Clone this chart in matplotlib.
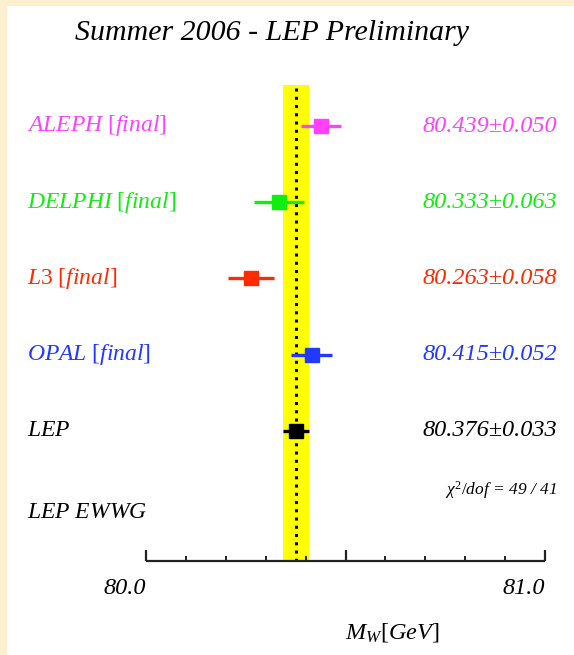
import numpy as np
import matplotlib
matplotlib.use('Agg')
import matplotlib.pyplot as plt
from matplotlib.patches import Rectangle

plt.rcParams['font.family'] = 'Liberation Serif'
plt.rcParams['mathtext.fontset'] = 'custom'
plt.rcParams['mathtext.rm'] = 'Liberation Serif'
plt.rcParams['mathtext.it'] = 'Liberation Serif:italic'
plt.rcParams['mathtext.bf'] = 'Liberation Serif:bold'

# Messungen
experiments = ['ALEPH', 'DELPHI', 'L3', 'OPAL', 'LEP']
final_tag = [True, True, True, True, False]
mw = [80.439, 80.333, 80.263, 80.415, 80.376]
err = [0.050, 0.063, 0.058, 0.052, 0.033]
colors = ['#ff40ff', '#10ee10', '#ff2a00', '#2038ff', '#000000']
lep_mean = 80.376
lep_err = 0.033
chi2_text = r'$\chi^2/\mathit{dof}$ = 49 / 41'
xticks_major = [80.0, 80.5, 81.0]
xticks_minor = [80.1, 80.2, 80.3, 80.4, 80.6, 80.7, 80.8, 80.9]
xticklabels = ['80.0', '81.0']

W, H = 574, 655
fig = plt.figure(figsize=(W / 100, H / 100), dpi=100)
fig.patch.set_facecolor('white')
ax = fig.add_axes([0, 0, 1, 1])
ax.axis('off')

# pixel -> daten: 80.0 bei px 146, 81.0 bei px 545; zeile i bei px 126 + 76.2 i
px_per_gev = 399.0
row_px = 76.2
x0 = 80.0 - 146 / px_per_gev
ax.set_xlim(x0, 80.0 + (W - 146) / px_per_gev)
ax.set_ylim((H - 126) / row_px, -126 / row_px)

def ry(px):
    return (px - 126) / row_px

def rx(px):
    return x0 + px / px_per_gev

axis_y = ry(561)

# creme rand oben / links
fig.patches.append(Rectangle((0, 1 - 5 / H), 1, 5 / H, transform=fig.transFigure,
                             color='#fef0cf', zorder=0))
fig.patches.append(Rectangle((0, 0), 6 / W, 1, transform=fig.transFigure,
                             color='#fef0cf', zorder=0))

# gelbes band + gepunktete linie
ax.fill_between([lep_mean - lep_err, lep_mean + lep_err], ry(85), axis_y,
                color='#ffff00', lw=0, zorder=1)
ax.plot([lep_mean, lep_mean], [ry(88), axis_y], color='black', lw=2.2,
        linestyle=(0, (1, 1.7)), dash_capstyle='butt', zorder=2)

# messpunkte
for i, (name, f, m, e, c) in enumerate(zip(experiments, final_tag, mw, err, colors)):
    ax.errorbar(m, i, xerr=e, fmt='s', color=c, ms=10, lw=2.4, capsize=0, zorder=3)
    if f:
        lab = r'$\mathit{%s}\ [\mathit{final}]$' % name
    else:
        lab = r'$\mathit{%s}$' % name
    ax.text(rx(27), i, lab, color=c, fontsize=17, ha='left', va='center')
    ax.text(rx(557), i, '%.3f\u00b1%.3f' % (m, e), color=c, fontsize=17.5,
            fontstyle='italic', ha='right', va='center')

ax.text(rx(27), ry(512), r'$\mathit{LEP\ EWWG}$', fontsize=17,
        ha='left', va='center')
ax.text(rx(557), ry(490), chi2_text, fontsize=12.5, fontstyle='italic',
        ha='right', va='center')

# achse
ax.plot([80.0, 81.0], [axis_y, axis_y], color='#222222', lw=1.6, zorder=4,
        solid_capstyle='butt')
ax.vlines(xticks_major, axis_y, axis_y - 11 / row_px, color='#222222', lw=1.6, zorder=4)
ax.vlines(xticks_minor, axis_y, axis_y - 5 / row_px, color='#222222', lw=1.4, zorder=4)
for x, t in zip([xticks_major[0], xticks_major[-1]], xticklabels):
    ax.text(x, ry(588), t, fontsize=17.5, fontstyle='italic', ha='right', va='center')
ax.text(rx(440), ry(633), r'$M_W[GeV]$', fontsize=17.5, ha='right', va='center')

ax.text(rx(272), ry(33), 'Summer 2006 - LEP Preliminary',
        fontsize=21.5, fontstyle='italic', ha='center', va='center')

plt.savefig('out.png', dpi=100, facecolor=fig.get_facecolor())
